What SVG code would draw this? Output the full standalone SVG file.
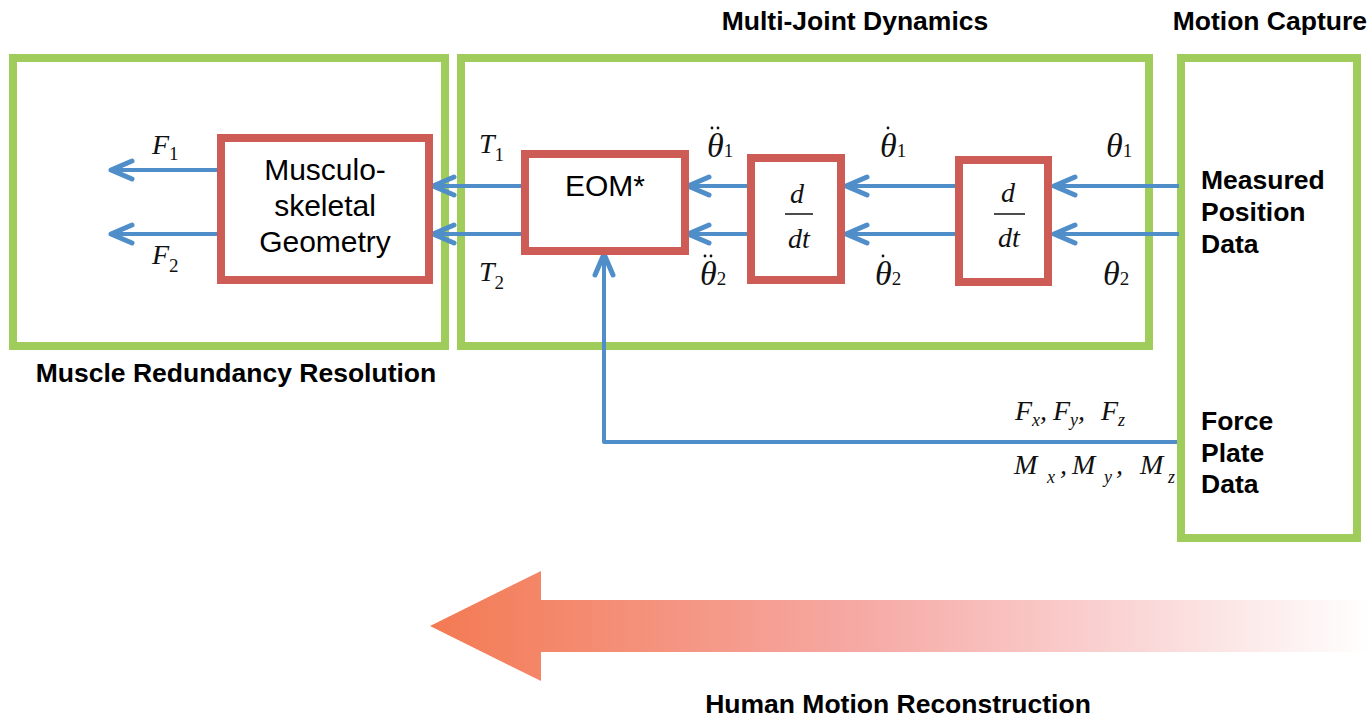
<svg xmlns="http://www.w3.org/2000/svg" width="1372" height="719" viewBox="0 0 1372 719">
<style>
.g{fill:none;stroke:#A0CC5C;stroke-width:8}
.r{fill:#fff;stroke:#CD5C57;stroke-width:8}
.c{fill:none;stroke:#4F8EC9;stroke-width:4}
.h{font-family:"Liberation Sans",Arial,sans-serif;font-weight:bold;font-size:26.5px;fill:#000}
.n{font-family:"Liberation Sans",Arial,sans-serif;font-size:30px;fill:#000}
.m{font-family:"Liberation Serif","Times New Roman",serif;font-style:italic;font-size:28px;fill:#111}
.t{font-family:"Liberation Serif","Times New Roman",serif;font-style:italic;font-size:34px;fill:#111}
.s{font-family:"Liberation Serif","Times New Roman",serif;font-style:normal;font-size:19px}
.si{font-family:"Liberation Serif","Times New Roman",serif;font-style:italic;font-size:18px}
.d{fill:#111}
</style>
<defs>
<marker id="ah" markerUnits="userSpaceOnUse" viewBox="-30 -15 35 30" markerWidth="35" markerHeight="30" refX="0" refY="0" orient="auto" overflow="visible">
<path d="M-21,-9 L0,0 L-21,9" fill="none" stroke="#4F8EC9" stroke-width="5" stroke-linecap="round" stroke-linejoin="round"/>
</marker>
<linearGradient id="grad" gradientUnits="userSpaceOnUse" x1="430" y1="0" x2="1372" y2="0">
<stop offset="0" stop-color="#F37A53"/>
<stop offset="0.45" stop-color="#F6A8A3"/>
<stop offset="0.75" stop-color="#FAD6D6"/>
<stop offset="1" stop-color="#FFFFFF"/>
</linearGradient>
</defs>

<g id="muscle-redundancy">
<rect class="g" x="13" y="58" width="432" height="288"/>
<text class="h" x="236" y="382" text-anchor="middle">Muscle Redundancy Resolution</text>
</g>
<g id="multi-joint">
<rect class="g" x="461" y="58" width="688" height="288"/>
<text class="h" x="855" y="30" text-anchor="middle">Multi-Joint Dynamics</text>
</g>
<g id="motion-capture">
<rect class="g" x="1181" y="58" width="176" height="480"/>
<text class="h" x="1367" y="30" text-anchor="end">Motion Capture</text>
<text class="h" x="1201" y="189">Measured</text>
<text class="h" x="1201" y="221">Position</text>
<text class="h" x="1201" y="253">Data</text>
<text class="h" x="1201" y="430">Force</text>
<text class="h" x="1201" y="462">Plate</text>
<text class="h" x="1201" y="493">Data</text>
</g>

<g id="connectors">
<line class="c" x1="221" y1="170" x2="111" y2="170" marker-end="url(#ah)"/>
<line class="c" x1="221" y1="234" x2="111" y2="234" marker-end="url(#ah)"/>
<line class="c" x1="525" y1="186" x2="433" y2="186" marker-end="url(#ah)"/>
<line class="c" x1="525" y1="234" x2="433" y2="234" marker-end="url(#ah)"/>
<line class="c" x1="751" y1="186" x2="688" y2="186" marker-end="url(#ah)"/>
<line class="c" x1="751" y1="234" x2="688" y2="234" marker-end="url(#ah)"/>
<line class="c" x1="959" y1="186" x2="846" y2="186" marker-end="url(#ah)"/>
<line class="c" x1="959" y1="234" x2="846" y2="234" marker-end="url(#ah)"/>
<line class="c" x1="1179" y1="186" x2="1054" y2="186" marker-end="url(#ah)"/>
<line class="c" x1="1179" y1="234" x2="1054" y2="234" marker-end="url(#ah)"/>
<polyline class="c" points="1177,442 604,442 604,254" stroke-linejoin="round" marker-end="url(#ah)"/>
</g>

<g id="musculoskeletal">
<rect class="r" x="221" y="138" width="208" height="142"/>
<text class="n" x="325" y="180" text-anchor="middle" font-size="31">Musculo-</text>
<text class="n" x="325" y="216" text-anchor="middle" font-size="31">skeletal</text>
<text class="n" x="325" y="252" text-anchor="middle" font-size="31">Geometry</text>
</g>
<g id="eom">
<rect class="r" x="525" y="154" width="160" height="97"/>
<text class="n" x="605" y="196" text-anchor="middle">EOM*</text>
</g>
<g id="ddt1">
<rect class="r" x="751" y="158" width="90" height="122"/>
<text class="m" x="797" y="203" text-anchor="middle" font-size="35">d</text>
<line x1="785" y1="214" x2="813" y2="214" stroke="#111" stroke-width="1.5"/>
<text class="m" x="799" y="248" text-anchor="middle" font-size="35">dt</text>
</g>
<g id="ddt2">
<rect class="r" x="959" y="160" width="89" height="122"/>
<text class="m" x="1008" y="202" text-anchor="middle" font-size="35">d</text>
<line x1="994" y1="214" x2="1025" y2="214" stroke="#111" stroke-width="1.5"/>
<text class="m" x="1009" y="247" text-anchor="middle" font-size="35">dt</text>
</g>

<g id="labels">
<text class="m" x="152" y="154">F<tspan class="s" dy="6">1</tspan></text>
<text class="m" x="152" y="264">F<tspan class="s" dy="8">2</tspan></text>
<text class="m" x="479" y="153" font-size="30">T<tspan class="s" dy="8">1</tspan></text>
<text class="m" x="479" y="281" font-size="30">T<tspan class="s" dy="8">2</tspan></text>
<text class="t" x="707" y="157">θ<tspan class="s">1</tspan></text>
<circle class="d" cx="712" cy="128" r="1.4"/><circle class="d" cx="718" cy="128" r="1.4"/>
<text class="t" x="700" y="285">θ<tspan class="s">2</tspan></text>
<circle class="d" cx="705" cy="256" r="1.4"/><circle class="d" cx="711" cy="256" r="1.4"/>
<text class="t" x="880" y="157">θ<tspan class="s">1</tspan></text>
<circle class="d" cx="888" cy="128" r="1.4"/>
<text class="t" x="875" y="285">θ<tspan class="s">2</tspan></text>
<circle class="d" cx="883" cy="256" r="1.4"/>
<text class="t" x="1106" y="157">θ<tspan class="s">1</tspan></text>
<text class="t" x="1103" y="285">θ<tspan class="s">2</tspan></text>
<text class="m" x="1015" y="420" font-size="28">F<tspan class="si" dy="6">x</tspan><tspan dy="-6">,</tspan></text>
<text class="m" x="1053" y="420" font-size="28">F<tspan class="si" dy="6">y</tspan><tspan dy="-6">,</tspan></text>
<text class="m" x="1101" y="420" font-size="28">F<tspan class="si" dy="6">z</tspan></text>
<text class="m" x="1014" y="474" font-size="30">M<tspan class="si" x="1047" dy="9">x</tspan><tspan dy="-9" x="1060">,</tspan></text>
<text class="m" x="1072" y="474" font-size="30">M<tspan class="si" x="1104" dy="9">y</tspan><tspan dy="-9" x="1116">,</tspan></text>
<text class="m" x="1140" y="474" font-size="30">M<tspan class="si" x="1168" dy="9">z</tspan></text>
</g>

<g id="reconstruction-arrow">
<polygon points="430,626 541,571 541,600 1372,600 1372,652 541,652 541,681" fill="url(#grad)"/>
<text class="h" x="898" y="713" text-anchor="middle">Human Motion Reconstruction</text>
</g>
</svg>
